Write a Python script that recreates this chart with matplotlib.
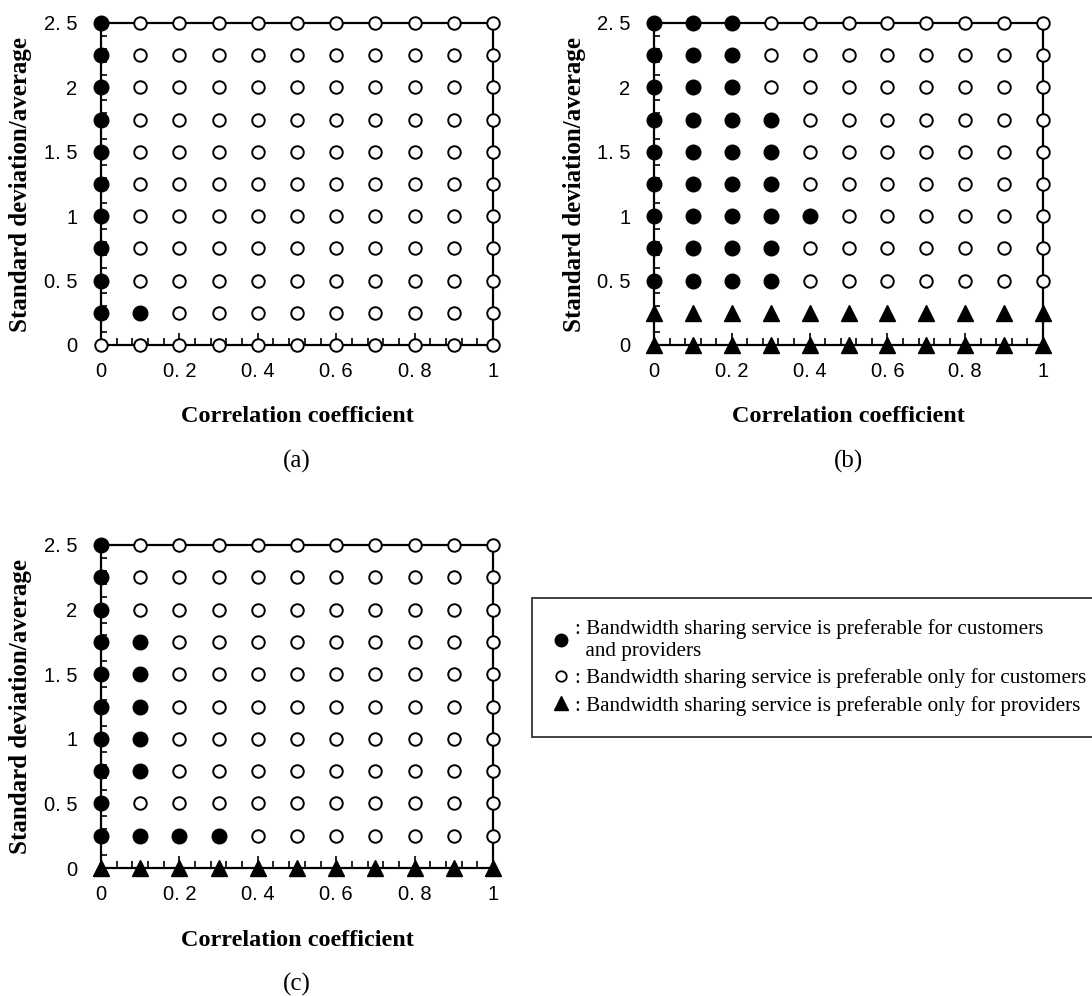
import numpy as np
import matplotlib
matplotlib.use('Agg')
import matplotlib.pyplot as plt
from matplotlib.lines import Line2D
from matplotlib.ticker import MultipleLocator

# grid of the study
corr = [0.0, 0.1, 0.2, 0.3, 0.4, 0.5, 0.6, 0.7, 0.8, 0.9, 1.0]
sd_avg = [0.0, 0.25, 0.5, 0.75, 1.0, 1.25, 1.5, 1.75, 2.0, 2.25, 2.5]

# filled circles per row, counted from corr=0 (rows from sd/avg=0 upwards)
filled_a = [0, 2, 1, 1, 1, 1, 1, 1, 1, 1, 1]
filled_b = [0, 0, 4, 4, 5, 4, 4, 4, 3, 3, 3]
filled_c = [0, 4, 1, 2, 2, 2, 2, 2, 1, 1, 1]
# rows that are triangles all the way
tri_a = []
tri_b = [0.0, 0.25]
tri_c = [0.0]

xtick_vals = [0, 0.2, 0.4, 0.6, 0.8, 1.0]
xtick_lbls = ['0', '0. 2', '0. 4', '0. 6', '0. 8', '1']
ytick_vals = [0, 0.5, 1.0, 1.5, 2.0, 2.5]
ytick_lbls = ['0', '0. 5', '1', '1. 5', '2', '2. 5']

legend_lbls = [': Bandwidth sharing service is preferable for customers\n  and providers',
               ': Bandwidth sharing service is preferable only for customers',
               ': Bandwidth sharing service is preferable only for providers']

serif = ['Liberation Serif', 'DejaVu Serif']
narrow = ['Liberation Sans Narrow', 'Liberation Sans', 'DejaVu Sans']

W, H = 1092, 996
fig = plt.figure(figsize=(W / 100, H / 100), dpi=100)


def fx(px):
    return px / W


def fy(py):
    return 1 - py / H


def panel(left, top, right, bottom, filled, tri, tag):
    ax = fig.add_axes([fx(left), fy(bottom), fx(right - left), fy(top) - fy(bottom)])
    ax.set_xlim(0, 1)
    ax.set_ylim(0, 2.5)
    for s in ax.spines.values():
        s.set_linewidth(1.6)
    xs_f, ys_f, xs_o, ys_o, xs_t, ys_t = [], [], [], [], [], []
    for i, y in enumerate(sd_avg):
        for j, x in enumerate(corr):
            if y in tri:
                xs_t.append(x); ys_t.append(y)
            elif j < filled[i]:
                xs_f.append(x); ys_f.append(y)
            else:
                xs_o.append(x); ys_o.append(y)
    ax.plot(xs_o, ys_o, 'o', ms=9, mfc='white', mec='black', mew=1.4, clip_on=False, zorder=3)
    ax.plot(xs_f, ys_f, 'o', ms=10.5, color='black', clip_on=False, zorder=3)
    ax.plot(xs_t, ys_t, '^', ms=11.5, color='black', clip_on=False, zorder=3)

    ax.set_xticks(xtick_vals)
    ax.set_xticklabels(xtick_lbls, family=narrow, fontsize=14.5)
    ax.set_yticks(ytick_vals)
    ax.set_yticklabels(ytick_lbls, family=narrow, fontsize=14.5)
    ax.xaxis.set_minor_locator(MultipleLocator(0.04))
    ax.yaxis.set_minor_locator(MultipleLocator(0.1))
    ax.tick_params(axis='x', which='major', direction='in', length=9, width=1.2, pad=12)
    ax.tick_params(axis='x', which='minor', direction='in', length=5, width=1.2)
    ax.tick_params(axis='y', which='major', direction='in', length=6, width=1.2, pad=17)
    ax.tick_params(axis='y', which='minor', direction='in', length=4, width=1.2)

    cx = (left + right) / 2
    cy = (top + bottom) / 2
    fig.text(fx(cx), fy(bottom + 72), 'Correlation coefficient', family=serif,
             fontweight='bold', fontsize=17.5, ha='center', va='center')
    fig.text(fx(left - 80), fy(cy), 'Standard deviation/average', family=serif,
             fontweight='bold', fontsize=18, ha='center', va='center', rotation=90)
    fig.text(fx(cx), fy(bottom + 116), tag, family=serif, fontsize=18,
             ha='center', va='center')
    return ax


panel(101, 23, 493, 345, filled_a, tri_a, '(a)')
panel(654, 23, 1043, 345, filled_b, tri_b, '(b)')
panel(101, 545, 493, 868, filled_c, tri_c, '(c)')

handles = [Line2D([], [], ls='none', marker='o', ms=9, color='black'),
           Line2D([], [], ls='none', marker='o', ms=7.5, mfc='white', mec='black', mew=1.3),
           Line2D([], [], ls='none', marker='^', ms=10, color='black')]
leg = fig.legend(handles, legend_lbls, loc='upper left',
                 bbox_to_anchor=(fx(532), fy(598)), prop={'family': serif, 'size': 15.2},
                 handlelength=0.75, handletextpad=0.3, labelspacing=0.36,
                 borderpad=1.0, frameon=True, fancybox=False, borderaxespad=0)
leg.get_frame().set_edgecolor('black')
leg.get_frame().set_linewidth(1.3)
leg.get_texts()[0].set_linespacing(1.2)

fig.savefig('out.png', dpi=100)
